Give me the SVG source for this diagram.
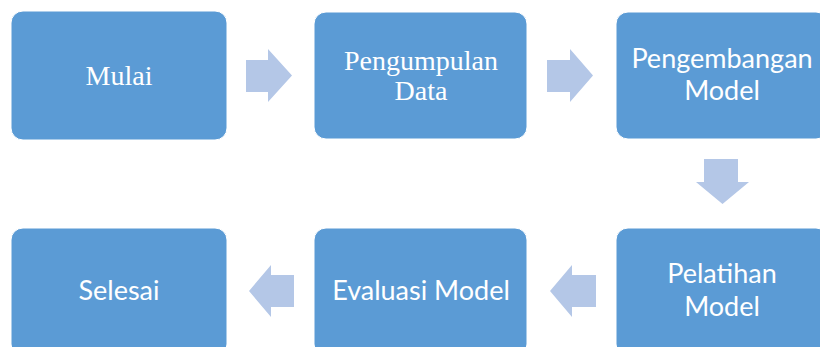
<svg xmlns="http://www.w3.org/2000/svg" width="820" height="347" viewBox="0 0 820 347">
<style>
.box{fill:#5B9BD5;stroke:#FFFFFF;stroke-width:1}
.arr{fill:#B4C7E7}
.serif{font-family:"Liberation Serif","Times New Roman",serif;font-size:28px;fill:#FFFFFF;text-anchor:middle}
.sans{font-family:Lato,"Open Sans",sans-serif;font-size:27px;fill:#FFFFFF;text-anchor:middle}
</style>
<rect width="820" height="347" fill="#FFFFFF"/>
<g id="n-mulai">
<rect class="box" x="11" y="11" width="216" height="129" rx="12"/>
<text class="serif" x="119" y="85">Mulai</text>
</g>
<g id="n-pengumpulan">
<rect class="box" x="314" y="12" width="213" height="127" rx="12"/>
<text class="serif" x="421" y="70">Pengumpulan</text>
<text class="serif" x="421" y="100">Data</text>
</g>
<g id="n-pengembangan">
<rect class="box" x="616" y="12" width="212" height="127" rx="12"/>
<text class="sans" x="722" y="68">Pengembangan</text>
<text class="sans" x="722" y="100">Model</text>
</g>
<g id="n-pelatihan">
<rect class="box" x="616" y="228" width="212" height="128" rx="12"/>
<text class="sans" x="722" y="283">Pelatihan</text>
<text class="sans" x="722" y="316">Model</text>
</g>
<g id="n-evaluasi">
<rect class="box" x="314" y="228" width="213" height="128" rx="12"/>
<text class="sans" x="421" y="300">Evaluasi Model</text>
</g>
<g id="n-selesai">
<rect class="box" x="11" y="228" width="216" height="128" rx="12"/>
<text class="sans" x="119" y="300">Selesai</text>
</g>
<g id="connectors">
<polygon class="arr" points="246,60 268,60 268,49 292,75.5 268,102 268,92 246,92"/>
<polygon class="arr" points="547,60 570,60 570,49 593,75.5 570,102 570,92 547,92"/>
<polygon class="arr" points="704,159 738,159 738,182 749,182 722.5,204 696,182 704,182"/>
<polygon class="arr" points="596,275 572,275 572,265 550,291 572,317 572,307 596,307"/>
<polygon class="arr" points="294,275 271,275 271,265 249,291 271,317 271,307 294,307"/>
</g>
</svg>
